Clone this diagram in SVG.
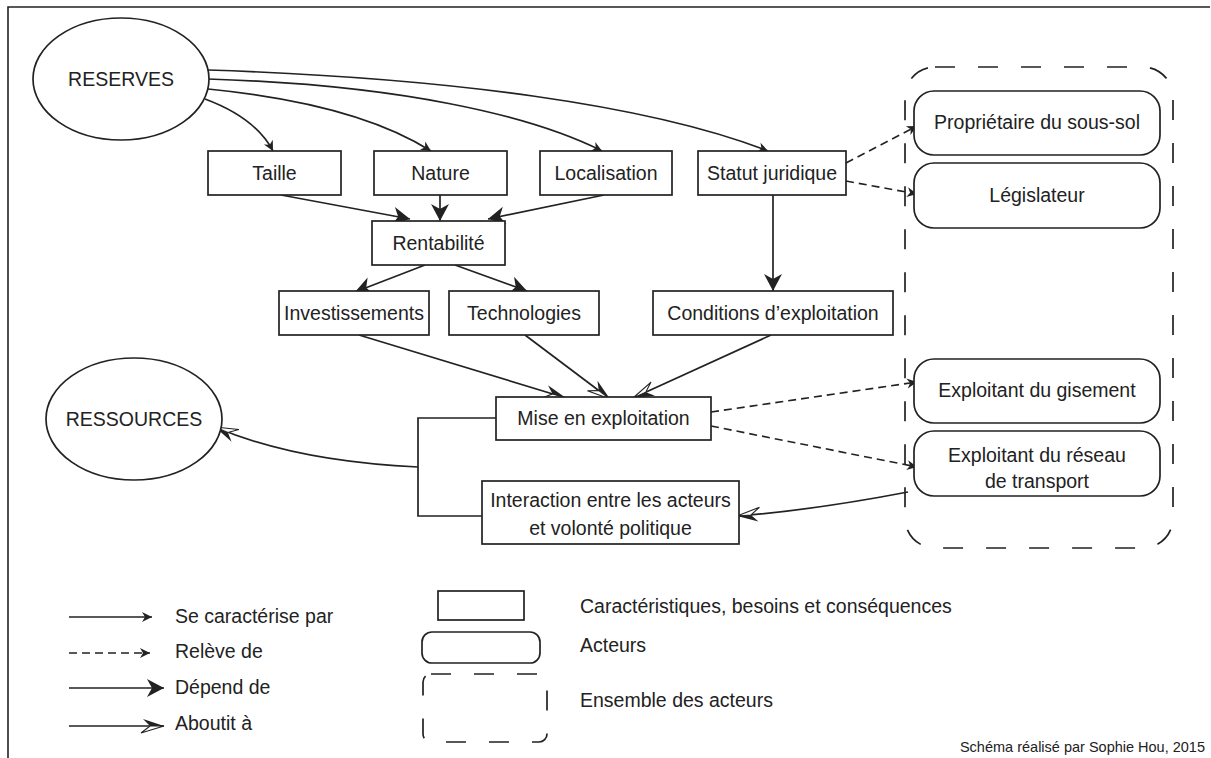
<svg xmlns="http://www.w3.org/2000/svg" width="1211" height="758" viewBox="0 0 1211 758">
<style>
text{font-family:"Liberation Sans",Arial,sans-serif;font-size:19.5px;fill:#222;}
.c{text-anchor:middle;}
.box{fill:#fff;stroke:#222;stroke-width:1.7;}
.ln{fill:none;stroke:#222;stroke-width:1.7;}
.dl{fill:none;stroke:#222;stroke-width:1.6;stroke-dasharray:8 5;}
.cont{fill:none;stroke:#222;stroke-width:1.7;stroke-dasharray:20 23;}
</style>
<defs>
<marker id="sm" viewBox="-12 -7 13 14" markerWidth="13" markerHeight="14" refX="0" refY="0" orient="auto" markerUnits="userSpaceOnUse"><path d="M0,0 L-10,-5 L-7,0 L-10,5 Z" fill="#222"/></marker>
<marker id="dep" viewBox="-19 -11 20 22" markerWidth="20" markerHeight="22" refX="0" refY="0" orient="auto" markerUnits="userSpaceOnUse"><path d="M0,0 L-17,-9 L-12,0 L-17,9 Z" fill="#222"/></marker>
<marker id="ab" viewBox="-26 -9 28 18" markerWidth="28" markerHeight="18" refX="0" refY="0" orient="auto" markerUnits="userSpaceOnUse"><path d="M0,0 L-21,-7 L-14,0 Z" fill="#222"/><path d="M0,0 L-14,0 L-23,7 Z" fill="#fff" stroke="#222" stroke-width="1.1"/></marker>
</defs>
<rect width="1211" height="758" fill="#fff"/>
<path d="M8,758 V7 H1210" fill="none" stroke="#222" stroke-width="1.6"/>

<g id="container"><rect class="cont" x="905" y="67" width="268" height="481" rx="30"/></g>

<g id="connectors">
<path class="ln" d="M205,99 C240,112 262,130 273,151" marker-end="url(#sm)"/>
<path class="ln" d="M208,89 C320,100 390,125 431,151" marker-end="url(#sm)"/>
<path class="ln" d="M208,79 C400,85 530,115 602,151" marker-end="url(#sm)"/>
<path class="ln" d="M208,70 C450,78 650,105 768,151" marker-end="url(#sm)"/>
<path class="ln" d="M281,195 L410,219" marker-end="url(#dep)"/>
<path class="ln" d="M440,195 L440,221" marker-end="url(#dep)"/>
<path class="ln" d="M604,195 L488,219" marker-end="url(#dep)"/>
<path class="ln" d="M425,265 L355,292" marker-end="url(#dep)"/>
<path class="ln" d="M455,265 L527,291" marker-end="url(#dep)"/>
<path class="ln" d="M773,195 L773,291" marker-end="url(#dep)"/>
<path class="ln" d="M359,335 L566,398" marker-end="url(#ab)"/>
<path class="ln" d="M525,335 L610,399" marker-end="url(#ab)"/>
<path class="ln" d="M771,335 L633,398" marker-end="url(#ab)"/>
<path class="ln" d="M496,418 H418 V516 H482"/>
<path class="ln" d="M418,467 C330,463 262,447 215,427" marker-end="url(#ab)"/>
<path class="ln" d="M908,492 C840,505 790,512 737,516" marker-end="url(#ab)"/>
<path class="dl" d="M846,163 L917,126" marker-end="url(#sm)"/>
<path class="dl" d="M846,181 L917,194" marker-end="url(#sm)"/>
<path class="dl" d="M711,412 L917,382" marker-end="url(#sm)"/>
<path class="dl" d="M711,426 L917,467" marker-end="url(#sm)"/>
</g>

<g id="reserves"><ellipse class="box" cx="121" cy="79" rx="88" ry="61"/><text class="c" x="121" y="86">RESERVES</text></g>
<g id="ressources"><ellipse class="box" cx="134" cy="419" rx="88" ry="61"/><text class="c" x="134" y="426">RESSOURCES</text></g>
<g id="taille"><rect class="box" x="208" y="151" width="133" height="44"/><text class="c" x="274.5" y="180">Taille</text></g>
<g id="nature"><rect class="box" x="374" y="151" width="133" height="44"/><text class="c" x="440.5" y="180">Nature</text></g>
<g id="localisation"><rect class="box" x="540" y="151" width="132" height="44"/><text class="c" x="606" y="180">Localisation</text></g>
<g id="statut"><rect class="box" x="698" y="151" width="148" height="44"/><text class="c" x="772" y="180">Statut juridique</text></g>
<g id="rentabilite"><rect class="box" x="372" y="221" width="133" height="44"/><text class="c" x="438.5" y="250">Rentabilité</text></g>
<g id="investissements"><rect class="box" x="279" y="291" width="150" height="44"/><text class="c" x="354" y="320">Investissements</text></g>
<g id="technologies"><rect class="box" x="449" y="291" width="150" height="44"/><text class="c" x="524" y="320">Technologies</text></g>
<g id="conditions"><rect class="box" x="653" y="291" width="240" height="44"/><text class="c" x="773" y="320">Conditions d’exploitation</text></g>
<g id="mise"><rect class="box" x="496" y="397" width="215" height="43"/><text class="c" x="603.5" y="425">Mise en exploitation</text></g>
<g id="interaction"><rect class="box" x="482" y="481" width="257" height="63"/><text class="c" x="610.5" y="507">Interaction entre les acteurs</text><text class="c" x="610.5" y="535">et volonté politique</text></g>

<g id="proprietaire"><rect class="box" x="914" y="91" width="246" height="64" rx="20"/><text class="c" x="1037" y="129">Propriétaire du sous-sol</text></g>
<g id="legislateur"><rect class="box" x="914" y="163" width="246" height="65" rx="20"/><text class="c" x="1037" y="202">Législateur</text></g>
<g id="gisement"><rect class="box" x="914" y="359" width="246" height="64" rx="20"/><text class="c" x="1037" y="397">Exploitant du gisement</text></g>
<g id="reseau"><rect class="box" x="914" y="431" width="246" height="65" rx="20"/><text class="c" x="1037" y="462">Exploitant du réseau</text><text class="c" x="1037" y="488">de transport</text></g>

<g id="legend">
<path class="ln" d="M69,617 H152" marker-end="url(#sm)"/>
<path class="dl" d="M69,653 H150" marker-end="url(#sm)"/>
<path class="ln" d="M69,688 H164" marker-end="url(#dep)"/>
<path class="ln" d="M69,726 H164" marker-end="url(#ab)"/>
<text x="175" y="623">Se caractérise par</text>
<text x="175" y="658">Relève de</text>
<text x="175" y="694">Dépend de</text>
<text x="175" y="730">Aboutit à</text>
<rect class="box" x="438" y="591" width="86" height="29"/>
<rect class="box" x="422" y="632" width="118" height="31" rx="10"/>
<rect class="cont" x="423" y="674" width="124" height="68" rx="8"/>
<text x="580" y="613">Caractéristiques, besoins et conséquences</text>
<text x="580" y="652">Acteurs</text>
<text x="580" y="707">Ensemble des acteurs</text>
</g>
<text x="1205" y="752" style="font-size:14.5px;text-anchor:end">Schéma réalisé par Sophie Hou, 2015</text>
</svg>
